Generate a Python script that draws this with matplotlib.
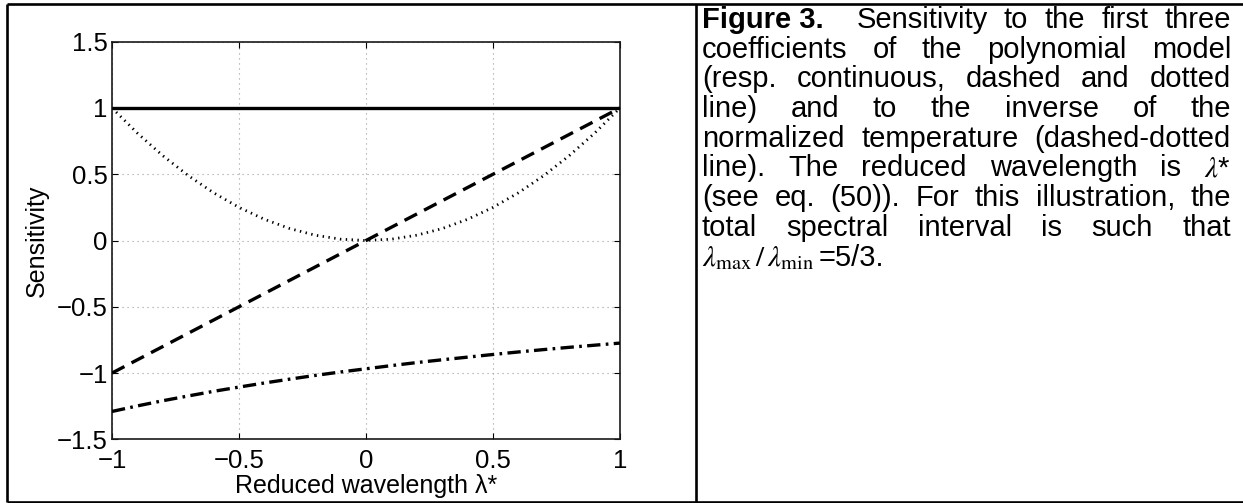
import matplotlib

matplotlib.use("Agg")

import matplotlib.pyplot as plt
from matplotlib.lines import Line2D

W, H, DPI = 1243, 503, 100

# reduced wavelength samples
lam_star = [-1.0, -0.9, -0.8, -0.7, -0.6, -0.5, -0.4, -0.3, -0.2, -0.1, 0.0,
            0.1, 0.2, 0.3, 0.4, 0.5, 0.6, 0.7, 0.8, 0.9, 1.0]

# sensitivities to the first three polynomial coefficients
sens_c0 = [1.0, 1.0, 1.0, 1.0, 1.0, 1.0, 1.0, 1.0, 1.0, 1.0, 1.0,
           1.0, 1.0, 1.0, 1.0, 1.0, 1.0, 1.0, 1.0, 1.0, 1.0]
sens_c1 = [-1.0, -0.9, -0.8, -0.7, -0.6, -0.5, -0.4, -0.3, -0.2, -0.1, 0.0,
           0.1, 0.2, 0.3, 0.4, 0.5, 0.6, 0.7, 0.8, 0.9, 1.0]
sens_c2 = [1.0, 0.81, 0.64, 0.49, 0.36, 0.25, 0.16, 0.09, 0.04, 0.01, 0.0,
           0.01, 0.04, 0.09, 0.16, 0.25, 0.36, 0.49, 0.64, 0.81, 1.0]
# sensitivity to the inverse of the normalized temperature
sens_temp = [-1.290, -1.248, -1.209, -1.173, -1.138, -1.106, -1.075, -1.046,
             -1.018, -0.992, -0.968, -0.944, -0.921, -0.900, -0.880, -0.860,
             -0.841, -0.823, -0.806, -0.790, -0.774]

xticks = [-1, -0.5, 0, 0.5, 1]
xtick_labels = ["\u22121", "\u22120.5", "0", "0.5", "1"]
yticks = [-1.5, -1, -0.5, 0, 0.5, 1, 1.5]
ytick_labels = ["\u22121.5", "\u22121", "\u22120.5", "0", "0.5", "1", "1.5"]

caption_lines = [
    [("Figure 3.", "bold", 0), ("Sensitivity", "normal", 2), ("to", "normal", 1),
     ("the", "normal", 1), ("first", "normal", 1), ("three", "normal", 1)],
    "coefficients of the polynomial model",
    "(resp. continuous, dashed and dotted",
    "line) and to the inverse of the",
    "normalized temperature (dashed-dotted",
    "line). The reduced wavelength is $\\lambda$*",
    "(see eq. (50)). For this illustration, the",
    "total spectral interval is such that",
]
ratio_text = "=5/3."

plt.rcParams["font.family"] = ["Liberation Sans", "DejaVu Sans"]

fig = plt.figure(figsize=(W / DPI, H / DPI), dpi=DPI, facecolor="white")

# plot area in pixel coordinates of the page
x0, x1, y_top, y_bot = 112, 620, 41.7, 439.3
ax = fig.add_axes([x0 / W, 1 - y_bot / H, (x1 - x0) / W, (y_bot - y_top) / H])

ax.plot(lam_star, sens_c0, color="black", linewidth=2.4, solid_capstyle="butt", zorder=4)
ax.plot(lam_star, sens_c1, color="black", linewidth=2.4,
        linestyle=(0, (4.2, 2.4)), dash_capstyle="butt", zorder=4)
ax.plot(lam_star, sens_c2, color="black", linewidth=2.0,
        linestyle=(0, (0.5, 1.6)), dash_capstyle="butt", zorder=4)
ax.plot(lam_star, sens_temp, color="black", linewidth=2.4,
        linestyle=(0, (4.0, 1.6, 0.8, 1.6)), dash_capstyle="butt", zorder=4)

ax.set_xlim(-1, 1)
ax.set_ylim(-1.5, 1.5)
ax.set_xticks(xticks)
ax.set_xticklabels(xtick_labels)
ax.set_yticks(yticks)
ax.set_yticklabels(ytick_labels)
ax.tick_params(direction="in", length=4, width=0.8, top=True, right=True,
               labelsize=18.5, colors="black")
ax.tick_params(axis="x", pad=7)
ax.tick_params(axis="y", pad=3)
ax.grid(True, color="#9a9a9a", linestyle=(0, (1, 3.5)), linewidth=0.8)
for spine in ax.spines.values():
    spine.set_linewidth(1.2)
    spine.set_color("#1a1a1a")

ax.set_xlabel("Reduced wavelength \u03bb*", fontsize=18, labelpad=1)
ax.set_ylabel("Sensitivity", fontsize=18, labelpad=6)

# table frame around the figure and its caption
frame = dict(color="black", linewidth=1.9, solid_capstyle="butt")
for xs, ys in [((6.5, W), (4, 4)), ((6.5, W), (501.5, 501.5)),
               ((6.5, 6.5), (4, 501.5)), ((696, 696), (4, 501.5))]:
    fig.add_artist(Line2D([x / W for x in xs], [1 - y / H for y in ys],
                          transform=fig.transFigure, **frame))

# justified caption text
renderer = fig.canvas.get_renderer()
cap_size = 21
left, right = 702, 1231
base0, pitch = 28, 29.7


def word_width(s, weight="normal", **kw):
    t = fig.text(0, 0, s, fontsize=cap_size, fontweight=weight, **kw)
    w = t.get_window_extent(renderer).width
    t.remove()
    return w


def put(x, y, s, weight="normal", **kw):
    fig.text(x / W, 1 - y / H, s, fontsize=cap_size, fontweight=weight,
             va="baseline", ha="left", **kw)


for i, line in enumerate(caption_lines):
    if isinstance(line, str):
        words = line.split(" ")
        pieces = [(w, "normal", 0 if k == 0 else 1) for k, w in enumerate(words)]
    else:
        pieces = line
    widths = [word_width(s, wt, math_fontfamily="stix") for s, wt, _ in pieces]
    gaps = sum(g for _, _, g in pieces)
    unit = (right - left - sum(widths)) / gaps
    x = left
    y = base0 + i * pitch
    for (s, wt, g), w in zip(pieces, widths):
        x += g * unit
        put(x, y, s, wt, math_fontfamily="stix")
        x += w

# last line: wavelength ratio
y = base0 + len(caption_lines) * pitch
ratio_math = r"$\lambda_{\rm max}\,/\,\lambda_{\rm min}$"
w_math = word_width(ratio_math, math_fontfamily="stix")
put(left, y, ratio_math, math_fontfamily="stix")
put(left + w_math + 5, y, ratio_text)

fig.savefig("out.png", dpi=DPI, facecolor="white")
plt.close(fig)
